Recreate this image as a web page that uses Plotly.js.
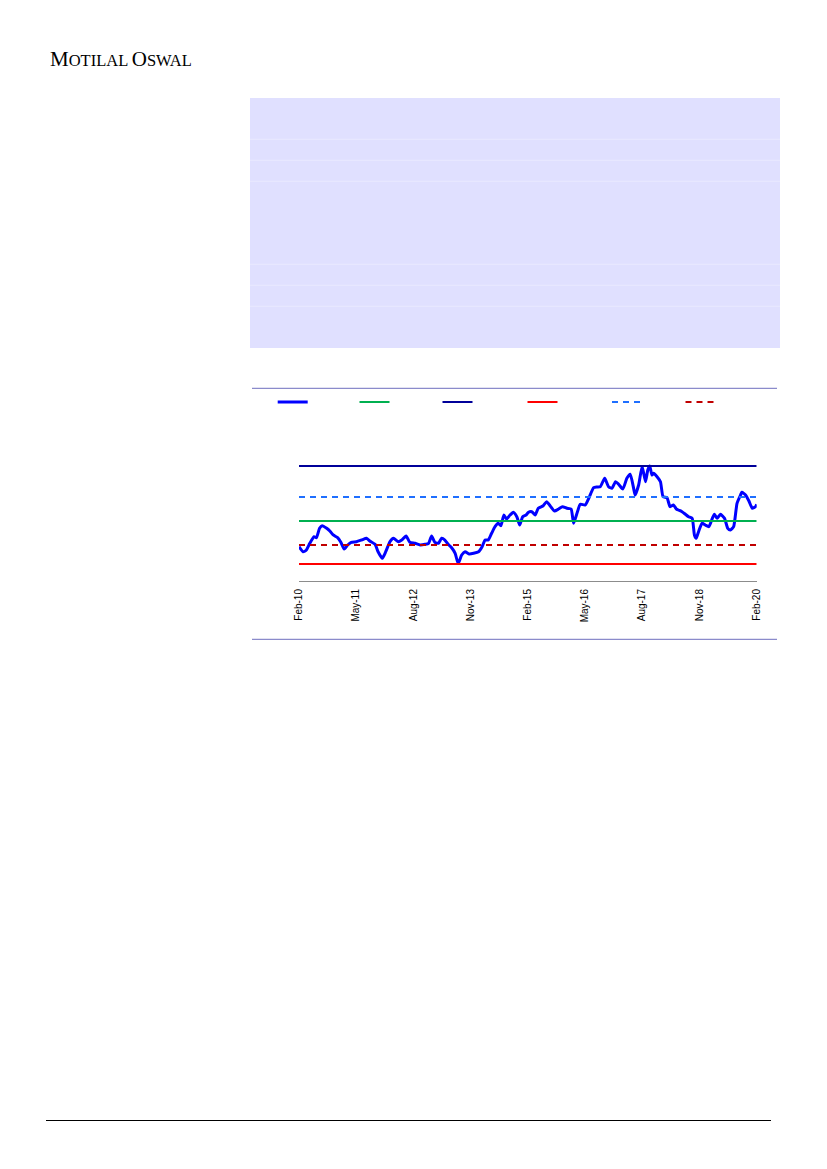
<!DOCTYPE html>
<html>
<head>
<meta charset="utf-8">
<script src="https://cdn.plot.ly/plotly-3.0.1.min.js"></script>
<style>html,body{margin:0;padding:0;background:#fff;}#chart{width:827px;height:1169px;}</style>
</head>
<body>
<div id="chart"></div>
<script>
// ---- data ----
const peDates = ['2010-02-01','2010-03-05','2010-04-01','2010-04-28','2010-06-01','2010-06-20','2010-07-15','2010-08-05','2010-09-10','2010-10-05',
'2010-11-01','2010-12-06','2011-01-01','2011-01-28','2011-02-25','2011-03-25','2011-05-05','2011-06-15','2011-07-25','2011-08-20',
'2011-10-01','2011-10-25','2011-11-28','2011-12-25','2012-01-28','2012-02-25','2012-04-04','2012-05-01','2012-06-04','2012-07-04',
'2012-08-15','2012-09-25','2012-11-04','2012-12-01','2012-12-25','2013-01-20','2013-02-18','2013-03-15','2013-04-10','2013-05-06',
'2013-06-03','2013-07-01','2013-07-25','2013-08-22','2013-09-18','2013-10-22','2013-11-25','2014-01-04','2014-02-01','2014-02-25',
'2014-03-22','2014-04-18','2014-05-15','2014-06-10','2014-07-01','2014-07-25','2014-08-15','2014-09-12','2014-10-08','2014-11-05',
'2014-11-28','2014-12-22','2015-01-18','2015-02-06','2015-03-04','2015-04-01','2015-04-25','2015-06-04','2015-07-01','2015-07-28',
'2015-09-01','2015-10-04','2015-11-04','2015-12-10','2016-01-12','2016-02-01','2016-02-28','2016-03-25','2016-05-04','2016-06-01',
'2016-07-10','2016-08-06','2016-09-01','2016-10-06','2016-11-06','2016-12-03','2017-01-01','2017-01-25','2017-02-28','2017-04-01',
'2017-04-28','2017-05-25','2017-06-06','2017-07-04','2017-08-01',
'2017-08-28','2017-09-15','2017-10-01','2017-10-18','2017-11-01','2017-11-28','2017-12-25','2018-01-15','2018-02-15','2018-03-12',
'2018-04-08','2018-05-01','2018-05-18','2018-06-15','2018-07-12','2018-08-06','2018-09-04','2018-09-22','2018-10-06','2018-10-25',
'2018-11-22','2018-12-18','2019-01-15','2019-02-12','2019-03-01','2019-03-22','2019-04-18','2019-05-20','2019-06-15','2019-07-06',
'2019-08-01','2019-08-28','2019-09-25','2019-10-06','2019-11-04','2019-12-01','2019-12-28','2020-01-22','2020-02-01'];
const peValues = [15.72,14.88,15.17,16.28,17.38,17.22,18.78,19.22,18.78,18.33,
17.67,17.22,16.45,15.33,16.0,16.45,16.55,16.83,17.12,16.67,
16.12,14.88,13.78,14.88,16.55,17.12,16.55,16.83,17.5,16.45,
16.28,16.0,16.12,16.28,17.5,16.45,16.28,17.12,16.83,16.12,
15.55,14.62,12.9,14.33,14.88,14.5,14.62,14.88,15.72,16.83,
16.83,17.95,19.05,19.62,19.22,21.0,20.33,21.0,21.45,20.72,
19.33,20.72,21.0,21.45,21.55,21.0,22.12,22.55,23.22,22.55,
21.67,22.0,22.38,22.12,22.0,19.62,21.28,22.78,22.67,23.78,
25.55,25.67,25.72,27.12,25.72,25.45,26.55,26.12,25.33,27.12,
27.78,25.45,24.33,26.0,29.1,
26.55,28.5,29.17,27.67,27.95,27.38,26.55,24.05,23.88,22.38,
22.67,22.0,21.83,21.55,21.12,20.72,20.45,17.67,17.12,18.22,
19.62,19.33,19.05,20.45,21.12,20.45,21.12,20.45,18.78,18.5,
19.05,22.95,24.33,24.78,24.33,23.33,22.12,22.38,22.78];

const bandKeys   = ['avg','max','min','plus1','minus1'];
const bandValues = [20.0, 29.17, 12.83, 24.0, 16.0];
const bandSpan   = ['2010-02-01','2020-02-01'];

const tickDates = ['2010-02-01','2011-05-01','2012-08-01','2013-11-01','2015-02-01','2016-05-01','2017-08-01','2018-11-01','2020-02-01'];
const tickText  = ['Feb-10','May-11','Aug-12','Nov-13','Feb-15','May-16','Aug-17','Nov-18','Feb-20'];

// ---- styling ----
const W = 827, H = 1169;
const px = x => x / W;
const py = y => 1 - y / H;

const bandStyle = {
  avg:   {color:'#00B050', width:2, dash:'solid',   legend:'legend2', lx:359.5},
  max:   {color:'#000099', width:2, dash:'solid',   legend:'legend3', lx:442.5},
  min:   {color:'#FF0000', width:2, dash:'solid',   legend:'legend4', lx:527.5},
  plus1: {color:'#1F6FFF', width:2, dash:'6px,5px', legend:'legend5', lx:612},
  minus1:{color:'#C00000', width:2, dash:'6px,5px', legend:'legend6', lx:685.5}
};

const traces = [];
traces.push({
  x: peDates, y: peValues, type:'scatter', mode:'lines', name:'',
  line:{color:'#0000FF', width:3, shape:'spline', smoothing:0.5},
  legend:'legend', showlegend:true, hoverinfo:'x+y'
});
bandKeys.forEach((k,i) => {
  const s = bandStyle[k];
  traces.push({
    x: bandSpan, y: [bandValues[i], bandValues[i]], type:'scatter', mode:'lines', name:'',
    line:{color:s.color, width:s.width, dash:s.dash},
    legend:s.legend, showlegend:true, hoverinfo:'y'
  });
});

function legendAt(x){
  return {x:px(x-5), y:py(402), xanchor:'left', yanchor:'middle', bgcolor:'rgba(0,0,0,0)',
          borderwidth:0, font:{size:1, color:'rgba(0,0,0,0)'}, itemwidth:30, orientation:'h',
          tracegroupgap:0};
}

const lineY = [139.3,160.3,181.3,264.3,285.3,306.3];
const shapes = [
  {type:'rect', xref:'paper', yref:'paper', x0:px(250), x1:px(780), y0:py(98), y1:py(348),
   fillcolor:'#E0E0FF', line:{width:0}, layer:'below'}
];
lineY.forEach(y => shapes.push({type:'line', xref:'paper', yref:'paper', x0:px(250), x1:px(780), y0:py(y), y1:py(y),
   line:{color:'#E9E9FF', width:1}, layer:'below'}));
[388.3, 639.3].forEach(y => shapes.push({type:'line', xref:'paper', yref:'paper', x0:px(252), x1:px(777), y0:py(y), y1:py(y),
   line:{color:'#6F6FBF', width:1}}));
shapes.push({type:'line', xref:'paper', yref:'paper', x0:px(46), x1:px(771), y0:py(1120.5), y1:py(1120.5),
   line:{color:'#000000', width:1}});

const layout = {
  width:W, height:H, margin:{l:0,r:0,t:0,b:0}, paper_bgcolor:'#FFFFFF', plot_bgcolor:'rgba(0,0,0,0)',
  showlegend:true,
  xaxis:{type:'date', domain:[px(299), px(756.7)], range:['2010-02-01','2020-02-01'],
    tickmode:'array', tickvals:tickDates, ticktext:tickText, tickangle:-90,
    tickfont:{family:'Liberation Sans, Arial, sans-serif', size:10, color:'#000000'},
    ticklabelstandoff:3,
    showline:true, linecolor:'#8C8C8C', linewidth:1, showgrid:false, zeroline:false, ticks:'', ticklen:0, fixedrange:true},
  yaxis:{domain:[py(581), py(458)], range:[10, 30.5], showgrid:false, zeroline:false, showticklabels:false,
    showline:false, ticks:'', fixedrange:true},
  legend: legendAt(277.7),
  legend2: legendAt(bandStyle.avg.lx),
  legend3: legendAt(bandStyle.max.lx),
  legend4: legendAt(bandStyle.min.lx),
  legend5: legendAt(bandStyle.plus1.lx),
  legend6: legendAt(bandStyle.minus1.lx),
  shapes: shapes,
  annotations:[
    {xref:'paper', yref:'paper', x:px(48), y:py(58.5), xanchor:'left', yanchor:'middle', showarrow:false,
     text:'<span style="font-size:21px">M</span>OTILAL <span style="font-size:21px">O</span>SWAL',
     font:{family:'Liberation Serif, Times New Roman, serif', size:16.5, color:'#000000'}}
  ]
};

Plotly.newPlot('chart', traces, layout, {displayModeBar:false, staticPlot:true});
</script>
</body>
</html>
